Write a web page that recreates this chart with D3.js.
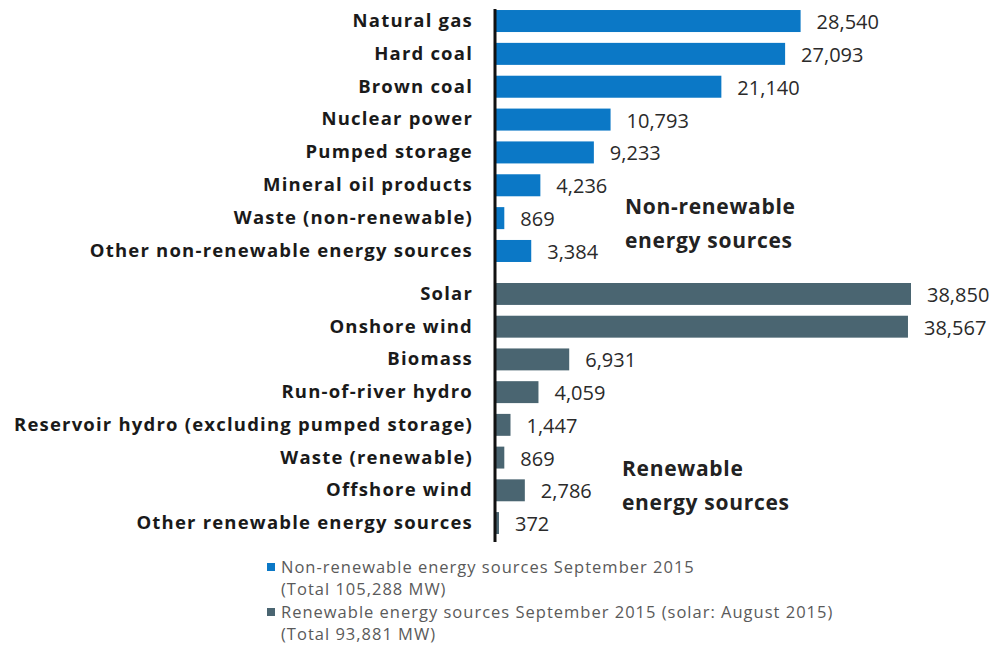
<!DOCTYPE html>
<html>
<head>
<meta charset="utf-8">
<script src="https://cdn.jsdelivr.net/npm/d3@7"></script>
<style>
  html, body { margin: 0; padding: 0; background: #fff; }
  svg { display: block; }
</style>
</head>
<body>
<svg id="chart" width="995" height="647"></svg>
<script>
// Installed capacity by energy source (MW)
const nonRenewableCategories = [
  "Natural gas", "Hard coal", "Brown coal", "Nuclear power",
  "Pumped storage", "Mineral oil products", "Waste (non-renewable)",
  "Other non-renewable energy sources"
];
const nonRenewableValues = [28540, 27093, 21140, 10793, 9233, 4236, 869, 3384];

const renewableCategories = [
  "Solar", "Onshore wind", "Biomass", "Run-of-river hydro",
  "Reservoir hydro (excluding pumped storage)", "Waste (renewable)",
  "Offshore wind", "Other renewable energy sources"
];
const renewableValues = [38850, 38567, 6931, 4059, 1447, 869, 2786, 372];

const groupLabels = [
  ["Non-renewable", "energy sources"],
  ["Renewable", "energy sources"]
];
const legendLines = [
  ["Non-renewable energy sources September 2015", "(Total 105,288 MW)"],
  ["Renewable energy sources September 2015 (solar: August 2015)", "(Total 93,881 MW)"]
];

const colors = ["#0b78c6", "#4a6571"];
const font = "'Open Sans', 'Noto Sans', sans-serif";

const groups = [
  { cats: nonRenewableCategories, values: nonRenewableValues, range: [4.6, 267.4] },
  { cats: renewableCategories, values: renewableValues, range: [277.6, 539.4] }
];

const svg = d3.select("#chart");

const x = d3.scaleLinear().domain([0, 38850]).range([495, 911]);
const fmt = d3.format(",");

groups.forEach((grp, g) => {
  const rows = grp.cats.map((c, i) => ({ cat: c, value: grp.values[i] }));
  const y = d3.scaleBand()
    .domain(grp.cats)
    .range(grp.range)
    .paddingInner(0.33)
    .paddingOuter(0.165);

  const layer = svg.append("g");

  // bars
  layer.append("g").selectAll("rect")
    .data(rows)
    .join("rect")
    .attr("x", x(0))
    .attr("y", d => y(d.cat))
    .attr("width", d => x(d.value) - x(0))
    .attr("height", y.bandwidth())
    .attr("fill", colors[g]);

  // category labels
  const axisG = layer.append("g")
    .attr("transform", `translate(${x(0)},0)`)
    .call(d3.axisLeft(y).tickSize(0).tickPadding(22));
  axisG.select(".domain").remove();
  axisG.selectAll("text")
    .attr("font-family", font)
    .attr("font-weight", "bold")
    .attr("font-size", 18.5)
    .attr("letter-spacing", 1.2)
    .attr("fill", "#1a1a1a");

  // value labels
  layer.append("g").selectAll("text")
    .data(rows)
    .join("text")
    .attr("x", d => x(d.value) + 16)
    .attr("y", d => y(d.cat) + y.bandwidth() / 2 + 1)
    .attr("dy", "0.35em")
    .attr("font-family", font)
    .attr("font-size", 20)
    .attr("fill", "#2a2a2a")
    .text(d => fmt(d.value));
});

// baseline
svg.append("line")
  .attr("x1", x(0)).attr("x2", x(0))
  .attr("y1", 9)
  .attr("y2", 542)
  .attr("stroke", "#111")
  .attr("stroke-width", 3);

// group labels
const groupPos = [[625, 214], [622, 476]];
groupLabels.forEach((lines, g) => {
  const t = svg.append("text")
    .attr("x", groupPos[g][0])
    .attr("y", groupPos[g][1])
    .attr("font-family", font)
    .attr("font-weight", "bold")
    .attr("font-size", 21)
    .attr("letter-spacing", 0.7)
    .attr("fill", "#222");
  lines.forEach((l, i) => t.append("tspan").attr("x", groupPos[g][0]).attr("dy", i ? 34 : 0).text(l));
});

// legend
const legend = svg.append("g").attr("transform", "translate(267,567)");
legendLines.forEach((lines, g) => {
  const gy = g * 45;
  legend.append("rect")
    .attr("x", 0).attr("y", gy - 4)
    .attr("width", 8).attr("height", 8)
    .attr("fill", colors[g]);
  lines.forEach((l, i) => {
    legend.append("text")
      .attr("x", 14)
      .attr("y", gy + i * 22)
      .attr("dy", "0.35em")
      .attr("font-family", font)
      .attr("font-size", 16.5)
      .attr("letter-spacing", 1)
      .attr("fill", "#5a5a5a")
      .text(l);
  });
});
</script>
</body>
</html>
